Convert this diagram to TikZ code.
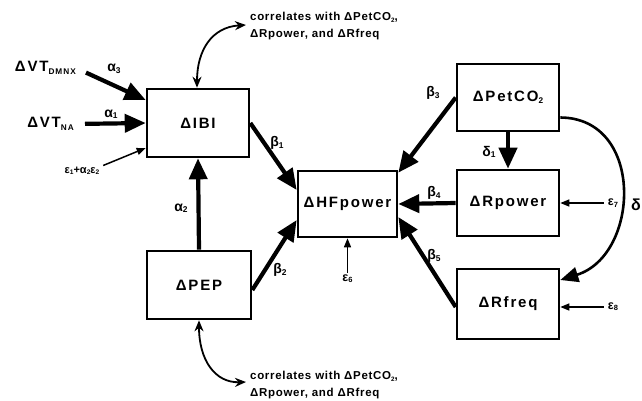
\documentclass[tikz,border=0pt]{standalone}
\usepackage{fontspec}
\usepackage{graphicx}
\setmainfont{Liberation Sans}
\newfontfamily\boxfont{Liberation Sans}[LetterSpace=12]
\newfontfamily\corrfont{Liberation Sans}[LetterSpace=6]
\usetikzlibrary{arrows.meta}
\newcommand\lsub[1]{\raisebox{-0.3ex}{\scalebox{0.55}{#1}}}
\newcommand\gsub[1]{\raisebox{-0.2ex}{\scalebox{0.6}{#1}}}
\begin{document}
\begin{tikzpicture}[x=1pt,y=-1pt,
  box/.style={draw,line width=2.6pt,inner sep=0pt,font=\boxfont\bfseries\fontsize{15}{15}\selectfont},
  big/.style={line width=4.2pt,-{Triangle[length=21pt,width=18pt]}},
  small/.style={line width=1.5pt,-{Triangle[length=9pt,width=7pt]}},
  corr/.style={line width=1.8pt,{Stealth[length=11pt,width=9pt]}-{Stealth[length=11pt,width=9pt]}},
  lbl/.style={inner sep=0pt,font=\bfseries\fontsize{14}{14}\selectfont},
  elbl/.style={inner sep=0pt,font=\bfseries\fontsize{12.5}{12.5}\selectfont},
  corrtext/.style={anchor=west,align=left,inner sep=4pt,font=\corrfont\bfseries\fontsize{11.5}{16.5}\selectfont},
  vt/.style={inner sep=0pt,anchor=east,font=\boxfont\bfseries\fontsize{15}{15}\selectfont}]
\useasboundingbox (0,0) rectangle (642,400);
% boxes
\node[box,minimum width=102pt,minimum height=68pt] (ibi) at (198,123) {ΔIBI};
\node[box,minimum width=104pt,minimum height=68pt] (pep) at (199,285) {ΔPEP};
\node[box,minimum width=99pt,minimum height=66pt] (hf) at (347.5,204) {ΔHFpower};
\node[box,minimum width=102pt,minimum height=67pt] (pet) at (508,97.5) {ΔPetCO\lsub{2}};
\node[box,minimum width=102pt,minimum height=66pt] (rp) at (508,203) {ΔRpower};
\node[box,minimum width=102pt,minimum height=70pt] (rf) at (508,304) {ΔRfreq};
% left inputs
\node[vt] (vtd) at (76,68) {ΔVT\lsub{DMNX}};
\node[vt] (vtn) at (74,124) {ΔVT\lsub{NA}};
\node[elbl,font=\bfseries\fontsize{11}{11}\selectfont] (eps) at (82,171) {ε\gsub{1}+α\gsub{2}ε\gsub{2}};
\draw[big,shorten <=11pt] (vtd.east) -- ([yshift=23pt]ibi.west);
\draw[big,shorten <=11pt] (vtn.east) -- (ibi.west);
\draw[small,shorten <=4pt] (eps.north east) -- ([yshift=-25pt]ibi.west);
\node[lbl] (a3) at (114,69) {α\gsub{3}};
\node[lbl] (a1) at (111,114) {α\gsub{1}};
% center
\draw[big] (pep.north) -- (ibi.south);
\node[lbl] (a2) at (181,208) {α\gsub{2}};
\draw[big] (ibi.east) -- ([yshift=14pt]hf.west);
\node[lbl] (b1) at (277,143) {β\gsub{1}};
\draw[big] ([yshift=-5pt]pep.east) -- ([yshift=-16pt]hf.west);
\node[lbl] (b2) at (280,270) {β\gsub{2}};
\node[elbl] (e6) at (347.5,279) {ε\gsub{6}};
\draw[small,shorten <=2pt] (e6.north) -- (hf.south);
% right
\draw[big] (pet.west) -- ([yshift=-3pt]hf.north east);
\node[lbl] (b3) at (433,93) {β\gsub{3}};
\draw[big] (rp.west) -- (hf.east);
\node[lbl] (b4) at (434,193) {β\gsub{4}};
\draw[big] ([yshift=-3pt]rf.west) -- ([yshift=-13pt]hf.east);
\node[lbl] (b5) at (434,256) {β\gsub{5}};
\draw[big] (pet.south) -- (rp.north);
\node[lbl] (d1) at (489,152) {δ\gsub{1}};
\node[elbl] (e7) at (613,203) {ε\gsub{7}};
\draw[small,shorten <=4pt] (e7.west) -- (rp.east);
\node[elbl] (e8) at (613,307) {ε\gsub{8}};
\draw[small,shorten <=4pt] (e8.west) -- ([yshift=-3pt]rf.east);
\draw[line width=2.6pt,-{Triangle[length=18pt,width=15pt]}] ([yshift=-20pt]pet.east) .. controls (645,118) and (640,255) .. ([yshift=24pt]rf.east);
\node[lbl,font=\bfseries\fontsize{16}{16}\selectfont] (d) at (636,205) {δ};
% correlations
\node[corrtext] (ct) at (246,26) {correlates with ΔPetCO\lsub{2},\\ΔRpower, and ΔRfreq};
\node[corrtext] (cb) at (246,385) {correlates with ΔPetCO\lsub{2},\\ΔRpower, and ΔRfreq};
\draw[corr] ([xshift=-1pt]ibi.north) .. controls (197,50) and (212,27) .. ([yshift=1pt]ct.west);
\draw[corr] (pep.south) .. controls (199,360) and (215,383) .. ([yshift=3pt]cb.west);
\end{tikzpicture}
\end{document}
